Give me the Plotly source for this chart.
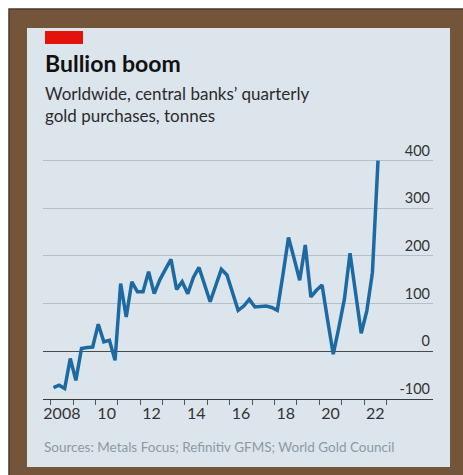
import plotly.graph_objects as go

# ---------------- data ----------------
years = list(range(2008, 2023))
quarters = [f"{y} Q{q}" for y in years for q in range(1, 5)][:59]  # 2008 Q1 .. 2022 Q3
purchases = [
    -76, -71, -78, -15,      # 2008
    -61, 6, 8, 9,            # 2009
    57, 20, 23, -19,         # 2010
    142, 72, 146, 125,       # 2011
    125, 167, 121, 150,      # 2012
    172, 193, 130, 146,      # 2013
    121, 155, 176, 140,      # 2014
    104, 138, 172, 160,      # 2015
    120, 86, 95, 109,        # 2016
    93, 94, 95, 92,          # 2017
    86, 160, 239, 195,       # 2018
    149, 223, 114, 128,      # 2019
    139, 65, -6, 50,         # 2020
    110, 206, 120, 38,       # 2021
    85, 165, 400,            # 2022
]
y_ticks = [-100, 0, 100, 200, 300, 400]
x_tick_years = list(range(2008, 2024))          # year boundaries (tick marks)
x_label_years = [2008, 2010, 2012, 2014, 2016, 2018, 2020, 2022]
x_label_text = ["2008", "10", "12", "14", "16", "18", "20", "22"]

title = "Bullion boom"
subtitle = "Worldwide, central banks’ quarterly<br>gold purchases, tonnes"
source = "Sources: Metals Focus; Refinitiv GFMS; World Gold Council"

# ---------------- layout geometry ----------------
W, H = 463, 475
ML, MR, MT, MB = 43, 30, 140, 76
PW, PH = W - ML - MR, H - MT - MB


def px(x):
    return (x - ML) / PW


def py(y):
    return (H - MB - y) / PH


def qx(label):
    y, q = label.split(" Q")
    return int(y) + (int(q) - 0.5) / 4


xs = [qx(q) for q in quarters]

FONT = "Lato"
LINE_BLUE = "#1d6aa3"
PANEL = "#dce5ec"
BROWN = "#75553a"

fig = go.Figure()
fig.add_trace(go.Scatter(
    x=xs, y=purchases, mode="lines",
    line=dict(color=LINE_BLUE, width=3.5),
    hoverinfo="skip", showlegend=False,
))

shapes = [
    # brown frame
    dict(type="rect", xref="paper", yref="paper", x0=px(9), x1=px(470), y0=py(480), y1=py(9),
         fillcolor=BROWN, line=dict(color="#4a3a2c", width=1.5), layer="below"),
    # light panel
    dict(type="rect", xref="paper", yref="paper", x0=px(27), x1=px(450), y0=py(467), y1=py(28),
         fillcolor=PANEL, line=dict(width=0), layer="below"),
    # red tag
    dict(type="rect", xref="paper", yref="paper", x0=px(45), x1=px(83), y0=py(44), y1=py(31),
         fillcolor="#e3120b", line=dict(width=0), layer="below"),
]

annotations = [
    dict(text=f"<b>{title}</b>", x=px(43), y=py(63), xref="paper", yref="paper",
         xanchor="left", yanchor="middle", showarrow=False,
         font=dict(family=FONT, size=23, color="#111111")),
    dict(text=subtitle, x=px(43), y=py(81), xref="paper", yref="paper",
         xanchor="left", yanchor="top", showarrow=False, align="left",
         font=dict(family=FONT, size=17, color="#2b2b2b")),
    dict(text=source, x=px(42), y=py(447), xref="paper", yref="paper",
         xanchor="left", yanchor="middle", showarrow=False,
         font=dict(family=FONT, size=13.5, color="#8d99a3")),
]

fig.update_layout(
    width=W, height=H,
    margin=dict(l=ML, r=MR, t=MT, b=MB, pad=0),
    paper_bgcolor="white",
    plot_bgcolor="rgba(0,0,0,0)",
    shapes=shapes,
    annotations=annotations,
    xaxis=dict(
        range=[2008 - (50.7 - ML) / 22.38, 2008 - (50.7 - ML) / 22.38 + PW / 22.38],
        tickmode="array",
        tickvals=[y + 0.5 for y in x_label_years],
        ticktext=x_label_text,
        ticks="", ticklen=0,
        showgrid=False, zeroline=False,
        showline=True, linecolor="#3a3a3a", linewidth=1.2,
        tickfont=dict(family=FONT, size=16, color="#333333"),
        minor=dict(tickmode="array", tickvals=x_tick_years, ticks="outside",
                   ticklen=5, tickwidth=1, tickcolor="#555555", showgrid=False),
        fixedrange=True,
    ),
    yaxis=dict(
        range=[-100, -100 + 543.3],
        side="right",
        tickmode="array",
        tickvals=y_ticks,
        ticktext=[str(v) for v in y_ticks],
        ticklabelposition="inside top",
        ticks="",
        showgrid=True, gridcolor="#b5bfc8", gridwidth=1,
        zeroline=True, zerolinecolor="#4a4a4a", zerolinewidth=1.2,
        tickfont=dict(family=FONT, size=14.5, color="#333333"),
        fixedrange=True,
    ),
)

fig.write_html("out.html", config={"displayModeBar": False, "staticPlot": True},
               post_script="document.body.style.margin='0';")
